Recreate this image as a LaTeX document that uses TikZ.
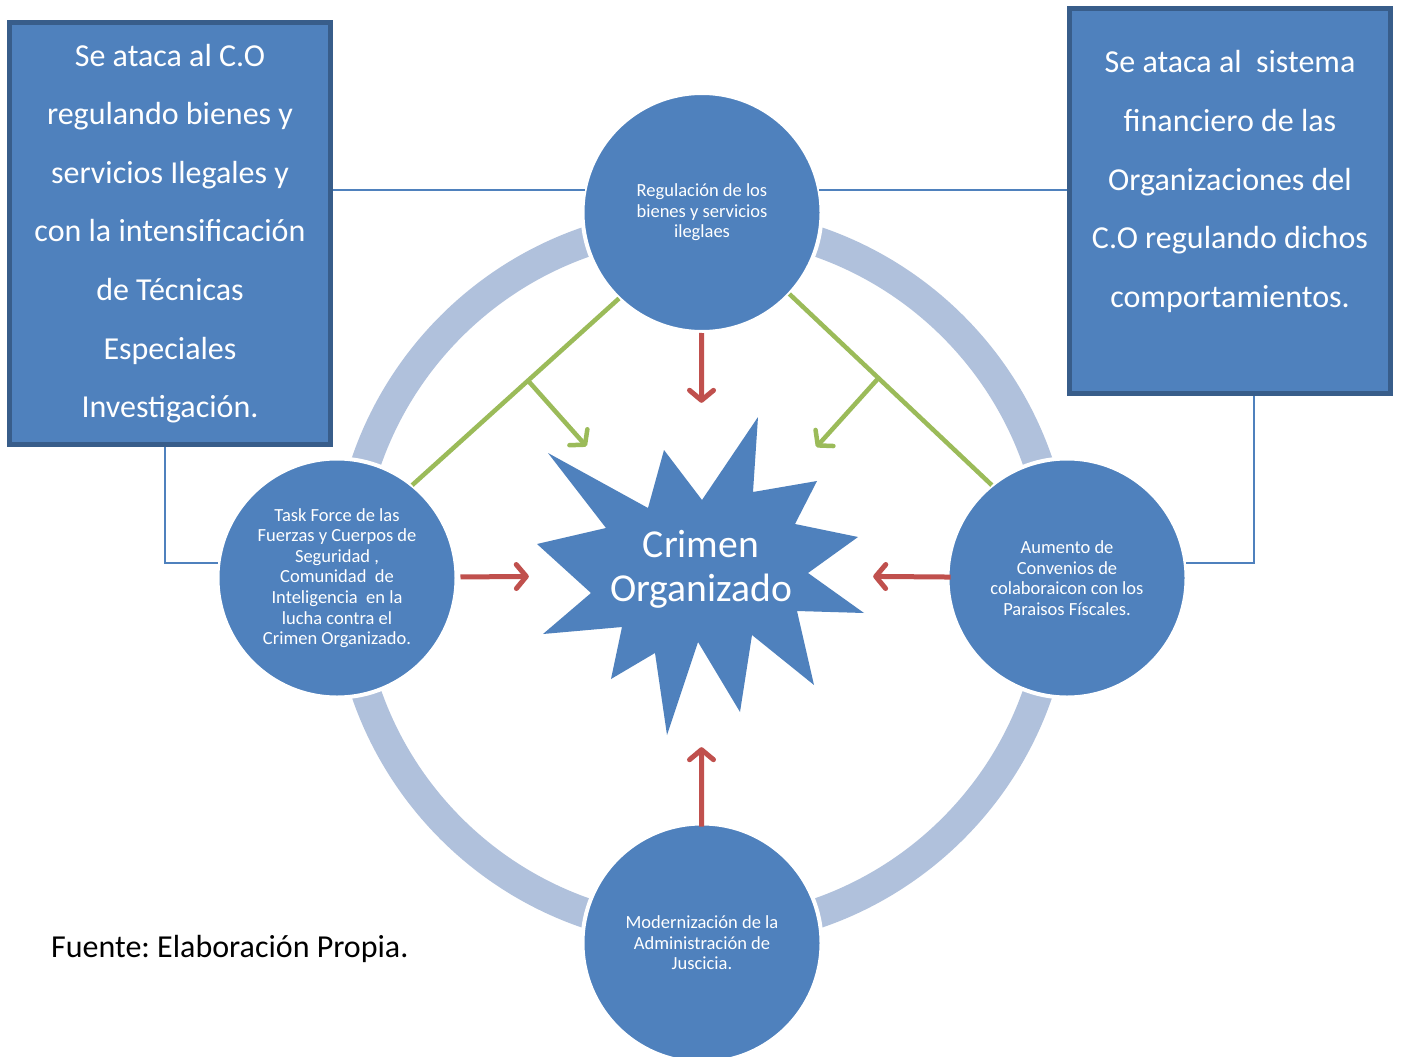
\documentclass[tikz,border=0pt]{standalone}
\usepackage{fontspec}
\setmainfont{Carlito}
\usepackage{xcolor}
\usetikzlibrary{positioning,calc,arrows.meta,shapes.geometric}

\definecolor{cblue}{RGB}{79,129,189}
\definecolor{cdark}{RGB}{56,93,138}
\definecolor{cring}{RGB}{176,193,220}
\definecolor{cred}{RGB}{192,80,77}
\definecolor{cgreen}{RGB}{155,187,89}

\begin{document}
\frenchspacing
\begin{tikzpicture}[x=1pt, y=-1pt,
	box/.style={draw=cdark, line width=5pt, fill=cblue, text=white, align=center, inner sep=0, font=\fontsize{32}{58.6}\selectfont},
	disc/.style={circle, draw=white, line width=4pt, fill=cblue, text=white, align=center, minimum size=239pt, inner sep=0, outer sep=0, font=\fontsize{18.5}{20.6}\selectfont},
	link/.style={draw=cblue, line width=2pt},
	redarr/.style={draw=cred, line width=5pt, -{Straight Barb[length=10pt,width=24pt,round]}, shorten <=1pt},
	greenline/.style={draw=cgreen, line width=4.5pt},
	greenarr/.style={greenline, -{Straight Barb[length=10pt,width=24pt,round]}}]

	\clip (0,0) rectangle (1403,1057);
	\fill[white] (0,0) rectangle (1403,1057);

	% ring behind the circles
	\draw[cring, line width=30pt] (702,577.5) circle[radius=355pt];

	% explosion
	\fill[cblue] (758,417) -- (753,492) -- (817,481) -- (795,524) -- (858,537) -- (808,573)
		-- (864,613) -- (797,611) -- (814,685) -- (752,635) -- (740,712) -- (698,642)
		-- (667,735) -- (655,653) -- (611,679) -- (622,627) -- (543,634) -- (591,593)
		-- (537,544) -- (606,528) -- (548,453) -- (648,508) -- (664,450) -- (702,500) -- cycle;
	\node[circle, minimum size=344pt, inner sep=0, text=white, align=center, text depth=19pt, font=\fontsize{39.6}{44}\selectfont] (crimen) at (701,575) {Crimen\\ Organizado};

	\node[box, minimum width=321pt, minimum height=422pt] (lbox) at (170,233.5) {Se ataca al C.O\\ regulando bienes y\\ servicios Ilegales y\\ con la intensificación\\ de Técnicas\\ Especiales\\ Investigación.};
	\node[box, minimum width=321pt, minimum height=385pt, text depth=44pt] (rbox) at (1230,201) {Se ataca al \ sistema\\ financiero de las\\ Organizaciones del\\ C.O regulando dichos\\ comportamientos.};

	\node[disc] (reg) at (702,212.5) {Regulación de los\\ bienes y servicios\\ ileglaes};
	\node[disc] (task) at (337,578) {Task Force de las\\ Fuerzas y Cuerpos de\\ Seguridad ,\\ Comunidad \ de\\ Inteligencia \ en la\\ lucha contra el\\ Crimen Organizado.};
	\node[disc] (conv) at (1067,578) {Aumento de\\ Convenios de\\ colaboraicon con los\\ Paraisos Físcales.};
	\node[disc] (mod) at (702,943) {Modernización de la\\ Administración de\\ Juscicia.};

	% links to the boxes
	\draw[link] (lbox.east |- reg.169) -- (reg.169);
	\draw[link] (reg.11) -- (rbox.west |- reg.11);
	\draw[link] ([xshift=-5pt]lbox.south) |- (task.173);
	\draw[link] ([xshift=24pt]rbox.south) |- (conv.7);

	% green lines
	\draw[greenline] (reg.226) -- coordinate[pos=0.44] (gl) (task.51);
	\draw[greenline] (reg.317) -- coordinate[pos=0.44] (gr) (conv.129);
	\draw[greenarr] (gl) -- (crimen);
	\draw[greenarr] (gr) -- (crimen);

	% red arrows
	\draw[redarr] (reg) -- (crimen);
	\draw[redarr, shorten <=4pt] (task) -- (crimen);
	\draw[redarr, shorten <=-3pt] (conv) -- (crimen);
	\draw[redarr, shorten <=-3pt] (mod) -- (crimen);

	\node[anchor=base west, inner sep=0, font=\fontsize{32}{38}\selectfont] (src) at (51,957) {Fuente: Elaboración Propia.};
\end{tikzpicture}
\end{document}
